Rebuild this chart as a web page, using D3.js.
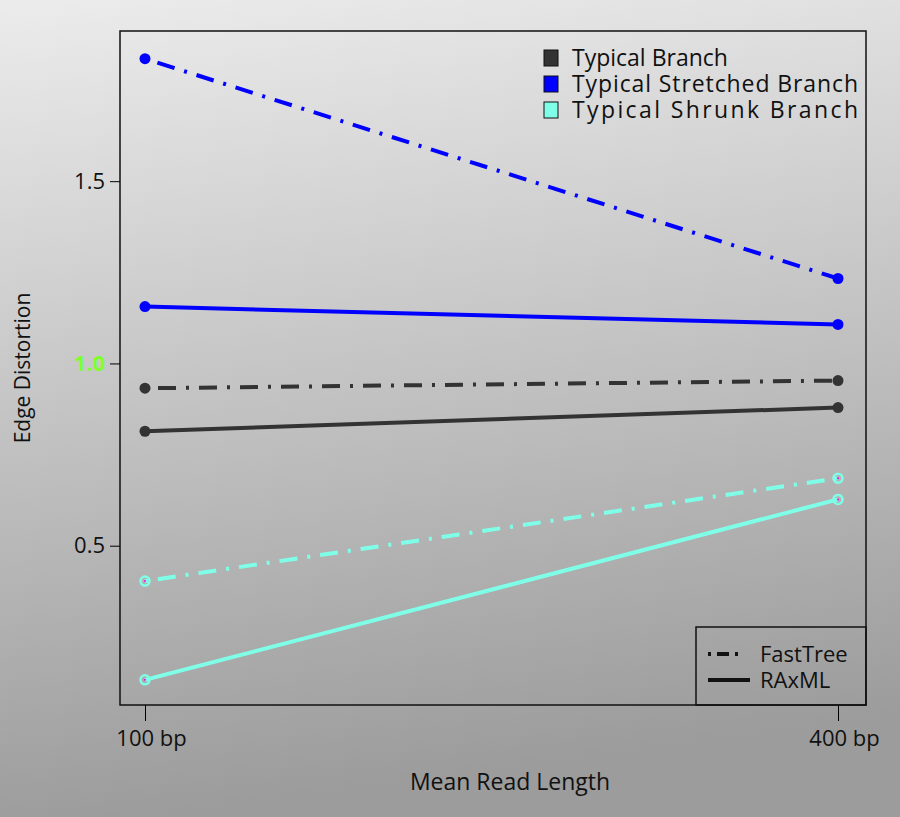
<!DOCTYPE html><html><head><meta charset="utf-8">
<script src="https://cdn.jsdelivr.net/npm/d3@7"></script>
<style>body{margin:0}svg{display:block}text{font-family:"Open Sans",sans-serif}</style></head><body>
<script>
const categories=["100 bp","400 bp"];
const seriesNames=["Typical Branch","Typical Stretched Branch","Typical Shrunk Branch"];
const seriesColors=["#333333","#0000ff","#7fffe8"];
const methods=["FastTree","RAxML"];
const fastTree=[[0.932,0.953],[1.836,1.233],[0.403,0.685]];
const raxml=[[0.814,0.879],[1.156,1.107],[0.132,0.627]];
const yTicks=[0.5,1.0,1.5];

const W=900,H=817;
const svg=d3.select("body").append("svg").attr("width",W).attr("height",H);
const defs=svg.append("defs");
const g=defs.append("linearGradient").attr("id","bg").attr("x1",0).attr("y1",0).attr("x2",0.15).attr("y2",1);
g.append("stop").attr("offset",0).attr("stop-color","#ececec");
g.append("stop").attr("offset",1).attr("stop-color","#9c9c9c");
svg.append("rect").attr("width",W).attr("height",H).attr("fill","url(#bg)");

const L=120,R=866,T=31,B=705;
const x=d3.scalePoint().domain(categories).range([145,838]);
const y=d3.scaleLinear().domain([0.063,1.912]).range([B,T]);

svg.append("rect").attr("x",L).attr("y",T).attr("width",R-L).attr("height",B-T).attr("fill","none").attr("stroke","#111").attr("stroke-width",1.5);

const ya=svg.append("g").attr("transform",`translate(${L},0)`).call(d3.axisLeft(y).tickValues(yTicks).tickFormat(d3.format(".1f")).tickSize(10).tickSizeOuter(0));
ya.select(".domain").remove();
ya.selectAll("text").attr("font-size",22).attr("fill",d=>d===1?"#7fff2a":"#111").attr("font-weight",d=>d===1?"bold":"normal").attr("dx",-2);
const xa=svg.append("g").attr("transform",`translate(0,${B})`).call(d3.axisBottom(x).tickSize(16).tickSizeOuter(0));
xa.select(".domain").remove();
xa.selectAll("text").attr("font-size",22).attr("fill","#111").attr("dy",22).attr("dx",6);

svg.append("text").attr("x",510).attr("y",790).attr("text-anchor","middle").attr("font-size",23).attr("fill","#111").text("Mean Read Length");
svg.append("text").attr("transform","translate(30,368) rotate(-90)").attr("text-anchor","middle").attr("font-size",21).attr("fill","#111").text("Edge Distortion");

const line=d3.line().x((d,i)=>x(categories[i])).y(d=>y(d));
function draw(data,dash){
 data.forEach((s,k)=>{
  svg.append("path").attr("d",line(s)).attr("fill","none").attr("stroke",seriesColors[k]).attr("stroke-width",4).attr("stroke-dasharray",dash);
  s.forEach((v,i)=>{
   svg.append("circle").attr("cx",x(categories[i])).attr("cy",y(v)).attr("r",k===2?4.5:5.5).attr("fill",k===2?"none":seriesColors[k]).attr("stroke",seriesColors[k]).attr("stroke-width",k===2?2.5:0);
   if(k===2) svg.append("circle").attr("cx",x(categories[i])).attr("cy",y(v)).attr("r",1).attr("fill","#ff00ff");
  });
 });
}
draw(fastTree,"3,10,18,10");
draw(raxml,null);

const lg=svg.append("g");
seriesNames.forEach((n,i)=>{
 const yy=58+i*26;
 lg.append("rect").attr("x",544).attr("y",yy-8).attr("width",14).attr("height",16).attr("fill",seriesColors[i]).attr("stroke","#111").attr("stroke-width",1);
 lg.append("text").attr("x",572).attr("y",yy+8).attr("font-size",23).attr("textLength",n.length>20?286:null).attr("fill","#111").text(n);
});
svg.append("rect").attr("x",696).attr("y",627).attr("width",R-696).attr("height",B-627).attr("fill","none").attr("stroke","#111").attr("stroke-width",1.5);
methods.forEach((m,i)=>{
 const yy=654+i*26;
 svg.append("line").attr("x1",708).attr("x2",750).attr("y1",yy).attr("y2",yy).attr("stroke","#111").attr("stroke-width",4).attr("stroke-dasharray",i===0?"3,6,12,6,3,40":null);
 svg.append("text").attr("x",760).attr("y",yy+8).attr("font-size",22).attr("fill","#111").text(m);
});
</script></body></html>
